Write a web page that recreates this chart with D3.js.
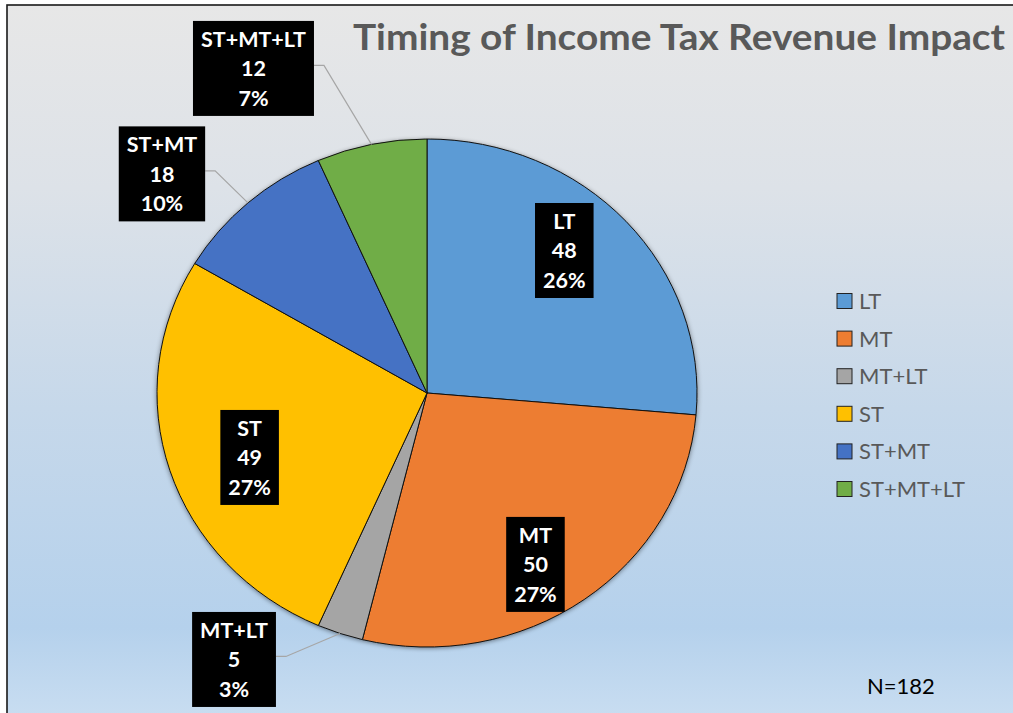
<!DOCTYPE html>
<html>
<head>
<meta charset="utf-8">
<title>Timing of Income Tax Revenue Impact</title>
<style>
body { margin: 0; overflow: hidden; background: #fff; }
text { font-family: Lato, "Open Sans", sans-serif; }
.title { font-size: 37px; font-weight: bold; fill: #595959; }
.legend text { font-size: 22px; fill: #595959; }
.lbl { font-size: 21.5px; font-weight: bold; fill: #fff; }
.note { font-size: 22px; fill: #000; }
</style>
<script src="https://d3js.org/d3.v7.min.js"></script>
</head>
<body>
<svg width="1013" height="713"></svg>
<script>
// data
const categories = ['LT', 'MT', 'MT+LT', 'ST', 'ST+MT', 'ST+MT+LT'];
const counts = [48, 50, 5, 49, 18, 12];
const percents = ['26%', '27%', '3%', '27%', '10%', '7%'];
const colors = ['#5b9bd5', '#ed7d31', '#a5a5a5', '#ffc000', '#4472c4', '#70ad47'];
const total = 182;

const svg = d3.select('svg');
const width = +svg.attr('width');
const height = +svg.attr('height');

// background + frame
const defs = svg.append('defs');
const grad = defs.append('linearGradient').attr('id', 'bg')
  .attr('x1', 0).attr('y1', 0).attr('x2', 0).attr('y2', 1);
[[0, '#e7e7e7'], [0.25, '#dde2e8'], [0.55, '#c6d8ea'], [0.85, '#b5d1ec'], [1, '#cde0f2']]
  .forEach(s => grad.append('stop').attr('offset', s[0]).attr('stop-color', s[1]));
const shadow = defs.append('filter').attr('id', 'sh')
  .attr('x', '-10%').attr('y', '-10%').attr('width', '120%').attr('height', '120%');
shadow.append('feDropShadow').attr('dx', 0).attr('dy', 1).attr('stdDeviation', 2.5)
  .attr('flood-color', '#000').attr('flood-opacity', 0.45);

svg.append('rect')
  .attr('x', 7).attr('y', 5).attr('width', width + 20).attr('height', height + 20)
  .attr('fill', 'url(#bg)').attr('stroke', '#1a1a1a').attr('stroke-width', 1.6);

svg.append('text').attr('class', 'title')
  .attr('x', 353).attr('y', 50)
  .attr('textLength', 652).attr('lengthAdjust', 'spacingAndGlyphs')
  .text('Timing of Income Tax Revenue Impact');

// pie (picture is stretched horizontally)
const cx = 427, cy = 393, rx = 270, ry = 254;
const data = categories.map((c, i) => ({ cat: c, value: counts[i], pct: percents[i], color: colors[i] }));
const pie = d3.pie().sort(null).value(d => d.value);
const arcs = pie(data);
const arc = d3.arc().innerRadius(0).outerRadius(rx);

const pg = svg.append('g')
  .attr('transform', `translate(${cx},${cy}) scale(1,${ry / rx})`);
pg.append('g').attr('filter', 'url(#sh)')
  .selectAll('path').data(arcs).enter().append('path')
  .attr('d', arc)
  .attr('fill', d => d.data.color)
  .attr('stroke', '#111')
  .attr('stroke-width', 1)
  .attr('vector-effect', 'non-scaling-stroke');

const mid = d => (d.startAngle + d.endAngle) / 2;
const onEllipse = (a, fx, fy) => [cx + rx * fx * Math.sin(a), cy - ry * fy * Math.cos(a)];

// outside label placement relative to slice edge
const outsideOffset = { 'MT+LT': [-106, 26], 'ST+MT': [-86, -29], 'ST+MT+LT': [-118, -76] };

const lg = svg.append('g');
arcs.forEach(d => {
  const off = outsideOffset[d.data.cat];
  let c;
  if (off) {
    const e = onEllipse(mid(d), 1, 1);
    c = [e[0] + off[0], e[1] + off[1]];
  } else {
    c = onEllipse(mid(d), 0.69, 0.83);
  }
  const g = lg.append('g');
  const box = g.append('rect').attr('fill', '#000');
  const lines = [d.data.cat, String(d.data.value), d.data.pct];
  let w = 0;
  lines.forEach((t, i) => {
    const tx = g.append('text').attr('class', 'lbl')
      .attr('x', c[0]).attr('y', c[1] + (i - 1) * 29.5 + 8)
      .attr('text-anchor', 'middle').text(t);
    w = Math.max(w, tx.node().getComputedTextLength());
  });
  const bw = w + 16, bh = 95;
  box.attr('x', c[0] - bw / 2).attr('y', c[1] - bh / 2).attr('width', bw).attr('height', bh);
  if (off) {
    const e = onEllipse(mid(d), 1, 1);
    const bx = c[0] + bw / 2;
    lg.insert('polyline', ':first-child')
      .attr('points', [[bx, c[1] - 3], [bx + 10, c[1] - 3], e].map(p => p.join(',')).join(' '))
      .attr('fill', 'none').attr('stroke', '#a6a6a6').attr('stroke-width', 1.2);
  }
});

// legend
const legend = svg.append('g').attr('class', 'legend')
  .selectAll('g').data(data).enter().append('g')
  .attr('transform', (d, i) => `translate(837,${301 + i * 37.6})`);
legend.append('rect')
  .attr('x', 0).attr('y', -7.5).attr('width', 15).attr('height', 15)
  .attr('fill', d => d.color).attr('stroke', '#222').attr('stroke-width', 1);
legend.append('text')
  .attr('x', 22).attr('y', 8)
  .text(d => d.cat);

svg.append('text').attr('class', 'note')
  .attr('x', 867).attr('y', 694)
  .text('N=' + total);
</script>
</body>
</html>
